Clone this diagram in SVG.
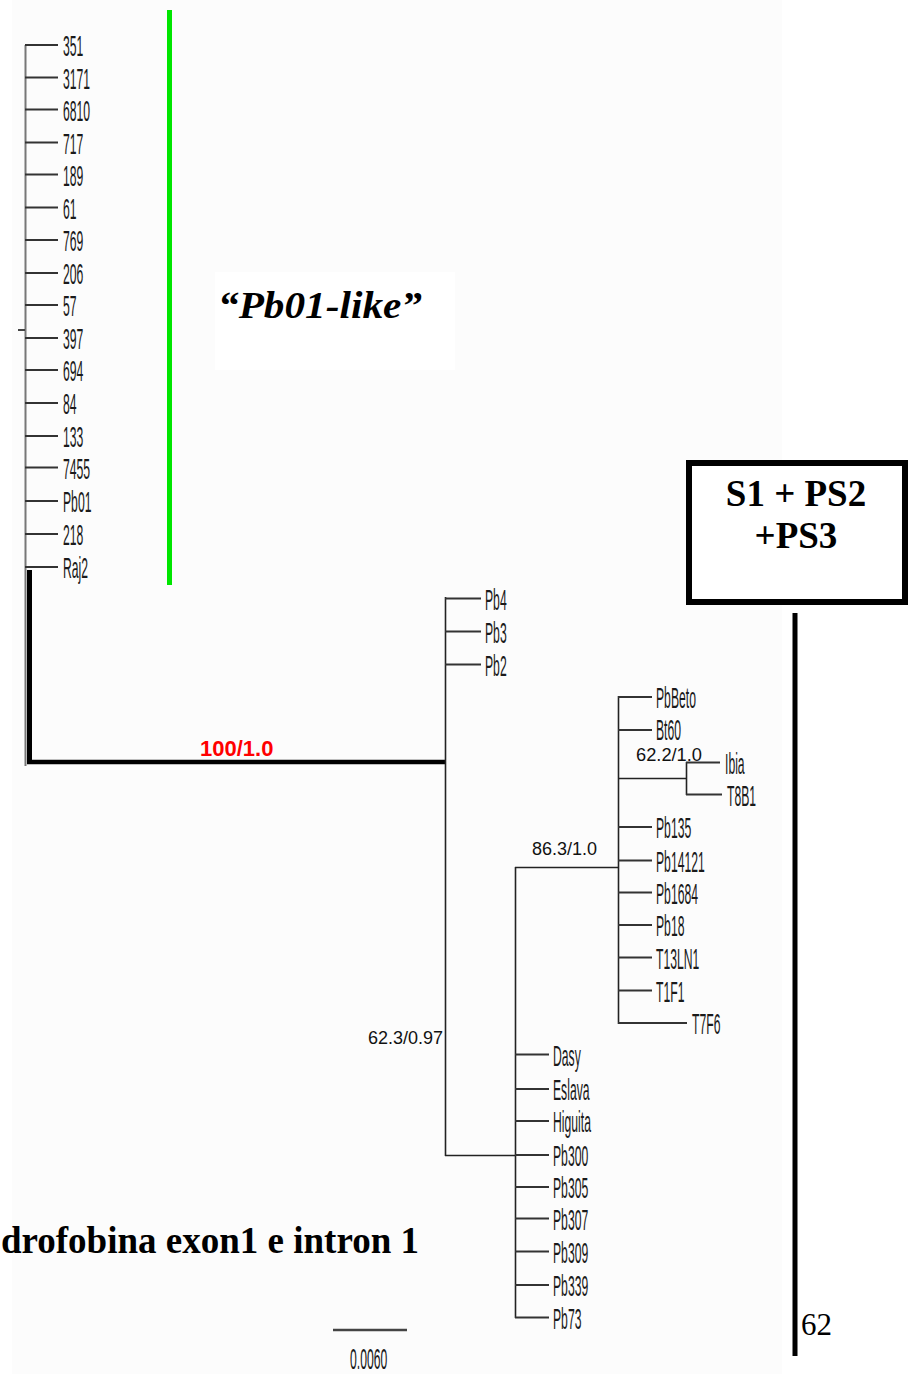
<svg xmlns="http://www.w3.org/2000/svg" width="922" height="1374" viewBox="0 0 922 1374">
<style>
.lf{font-family:"Liberation Sans",Arial,sans-serif;font-size:29px;fill:#1a1a1a}
.ll{stroke:#333;stroke-width:2;fill:none}
.br{stroke:#222;stroke-width:1.6;fill:none}
.bs{font-family:"Liberation Sans",Arial,sans-serif;font-size:18px;fill:#111}
.tb{font-family:"Liberation Serif","Times New Roman",serif;font-weight:bold;fill:#000}
</style>
<rect x="0" y="0" width="922" height="1374" fill="#ffffff"/>
<rect x="12" y="0" width="770" height="1374" fill="#fcfcfc"/>
<rect x="215" y="272" width="240" height="98" fill="#ffffff"/>

<g id="connectors">
  <line x1="25.5" y1="45" x2="25.5" y2="766" stroke="#777" stroke-width="2"/>
  <line x1="18" y1="330" x2="25" y2="330" stroke="#444" stroke-width="2"/>
  <line x1="29.5" y1="570" x2="29.5" y2="764" stroke="#000" stroke-width="5"/>
  <line x1="27" y1="762" x2="446" y2="762" stroke="#000" stroke-width="4.5"/>
  <line class="br" x1="445.5" y1="597" x2="445.5" y2="1156"/>
  <line class="br" x1="445" y1="1155.5" x2="516" y2="1155.5"/>
  <line class="br" x1="515.5" y1="867" x2="515.5" y2="1318"/>
  <line class="br" x1="515" y1="867.5" x2="619" y2="867.5"/>
  <line class="br" x1="618.5" y1="696" x2="618.5" y2="1024"/>
  <line class="br" x1="618" y1="778.5" x2="687" y2="778.5"/>
  <line class="br" x1="686.5" y1="762" x2="686.5" y2="795"/>
</g>

<g id="green-bar"><line x1="169.5" y1="10" x2="169.5" y2="585" stroke="#00e600" stroke-width="5"/></g>

<g id="left-clade">
  <g id="n351"><line class="ll" x1="25" y1="45" x2="58" y2="45"/><text class="lf" transform="translate(63,56) scale(0.42,1)">351</text></g>
  <g id="n3171"><line class="ll" x1="25" y1="77.5" x2="58" y2="77.5"/><text class="lf" transform="translate(63,88.5) scale(0.42,1)">3171</text></g>
  <g id="n6810"><line class="ll" x1="25" y1="109.5" x2="58" y2="109.5"/><text class="lf" transform="translate(63,120.5) scale(0.42,1)">6810</text></g>
  <g id="n717"><line class="ll" x1="25" y1="142.5" x2="58" y2="142.5"/><text class="lf" transform="translate(63,153.5) scale(0.42,1)">717</text></g>
  <g id="n189"><line class="ll" x1="25" y1="174.5" x2="58" y2="174.5"/><text class="lf" transform="translate(63,185.5) scale(0.42,1)">189</text></g>
  <g id="n61"><line class="ll" x1="25" y1="207.5" x2="58" y2="207.5"/><text class="lf" transform="translate(63,218.5) scale(0.42,1)">61</text></g>
  <g id="n769"><line class="ll" x1="25" y1="240" x2="58" y2="240"/><text class="lf" transform="translate(63,251) scale(0.42,1)">769</text></g>
  <g id="n206"><line class="ll" x1="25" y1="273" x2="58" y2="273"/><text class="lf" transform="translate(63,284) scale(0.42,1)">206</text></g>
  <g id="n57"><line class="ll" x1="25" y1="305" x2="58" y2="305"/><text class="lf" transform="translate(63,316) scale(0.42,1)">57</text></g>
  <g id="n397"><line class="ll" x1="25" y1="338" x2="58" y2="338"/><text class="lf" transform="translate(63,349) scale(0.42,1)">397</text></g>
  <g id="n694"><line class="ll" x1="25" y1="370" x2="58" y2="370"/><text class="lf" transform="translate(63,381) scale(0.42,1)">694</text></g>
  <g id="n84"><line class="ll" x1="25" y1="403" x2="58" y2="403"/><text class="lf" transform="translate(63,414) scale(0.42,1)">84</text></g>
  <g id="n133"><line class="ll" x1="25" y1="436" x2="58" y2="436"/><text class="lf" transform="translate(63,447) scale(0.42,1)">133</text></g>
  <g id="n7455"><line class="ll" x1="25" y1="467.5" x2="58" y2="467.5"/><text class="lf" transform="translate(63,478.5) scale(0.42,1)">7455</text></g>
  <g id="nPb01"><line class="ll" x1="25" y1="501" x2="58" y2="501"/><text class="lf" transform="translate(63,512) scale(0.42,1)">Pb01</text></g>
  <g id="n218"><line class="ll" x1="25" y1="534" x2="58" y2="534"/><text class="lf" transform="translate(63,545) scale(0.42,1)">218</text></g>
  <g id="nRaj2"><line class="ll" x1="25" y1="567" x2="58" y2="567"/><text class="lf" transform="translate(63,578) scale(0.42,1)">Raj2</text></g>
</g>

<g id="label-pb01like"><text x="218" y="318" font-family="'Liberation Serif','Times New Roman',serif" font-weight="bold" font-style="italic" font-size="37" fill="#000" textLength="204" lengthAdjust="spacingAndGlyphs">“Pb01-like”</text></g>

<g id="bootstrap-100"><text x="200" y="756" font-family="'Liberation Sans',Arial,sans-serif" font-weight="bold" font-size="22" fill="#ff0000">100/1.0</text></g>

<g id="pb-group">
  <g id="nPb4"><line class="ll" x1="445" y1="598.5" x2="481" y2="598.5"/><text class="lf" transform="translate(485,609.5) scale(0.42,1)">Pb4</text></g>
  <g id="nPb3"><line class="ll" x1="445" y1="631.5" x2="481" y2="631.5"/><text class="lf" transform="translate(485,642.5) scale(0.42,1)">Pb3</text></g>
  <g id="nPb2"><line class="ll" x1="445" y1="664.5" x2="481" y2="664.5"/><text class="lf" transform="translate(485,675.5) scale(0.42,1)">Pb2</text></g>
</g>

<g id="bootstrap-62-3"><text class="bs" x="368" y="1044">62.3/0.97</text></g>
<g id="bootstrap-86-3"><text class="bs" x="532" y="855">86.3/1.0</text></g>
<g id="bootstrap-62-2"><text class="bs" x="636" y="761" font-size="16.5" textLength="66" lengthAdjust="spacingAndGlyphs">62.2/1.0</text></g>

<g id="s1-clade">
  <g id="nPbBeto"><line class="ll" x1="618" y1="697" x2="652" y2="697"/><text class="lf" transform="translate(656,708) scale(0.42,1)">PbBeto</text></g>
  <g id="nBt60"><line class="ll" x1="618" y1="730" x2="652" y2="730"/><text class="lf" transform="translate(656,739.5) scale(0.42,1)">Bt60</text></g>
  <g id="nIbia"><line class="ll" x1="686" y1="762.5" x2="720" y2="762.5"/><text class="lf" transform="translate(725,773.5) scale(0.42,1)">Ibia</text></g>
  <g id="nT8B1"><line class="ll" x1="686" y1="794.5" x2="722" y2="794.5"/><text class="lf" transform="translate(727,805.5) scale(0.42,1)">T8B1</text></g>
  <g id="nPb135"><line class="ll" x1="618" y1="827" x2="652" y2="827"/><text class="lf" transform="translate(656,838) scale(0.42,1)">Pb135</text></g>
  <g id="nPb14121"><line class="ll" x1="618" y1="860.5" x2="652" y2="860.5"/><text class="lf" transform="translate(656,871.5) scale(0.42,1)">Pb14121</text></g>
  <g id="nPb1684"><line class="ll" x1="618" y1="892.5" x2="652" y2="892.5"/><text class="lf" transform="translate(656,903.5) scale(0.42,1)">Pb1684</text></g>
  <g id="nPb18"><line class="ll" x1="618" y1="925" x2="652" y2="925"/><text class="lf" transform="translate(656,936) scale(0.42,1)">Pb18</text></g>
  <g id="nT13LN1"><line class="ll" x1="618" y1="957.5" x2="652" y2="957.5"/><text class="lf" transform="translate(656,968.5) scale(0.42,1)">T13LN1</text></g>
  <g id="nT1F1"><line class="ll" x1="618" y1="990.5" x2="652" y2="990.5"/><text class="lf" transform="translate(656,1001.5) scale(0.42,1)">T1F1</text></g>
  <g id="nT7F6"><line class="ll" x1="618" y1="1023" x2="687" y2="1023"/><text class="lf" transform="translate(692,1034) scale(0.42,1)">T7F6</text></g>
</g>

<g id="ps-clade">
  <g id="nDasy"><line class="ll" x1="515" y1="1054.5" x2="549" y2="1054.5"/><text class="lf" transform="translate(553,1065.5) scale(0.42,1)">Dasy</text></g>
  <g id="nEslava"><line class="ll" x1="515" y1="1089" x2="549" y2="1089"/><text class="lf" transform="translate(553,1100) scale(0.42,1)">Eslava</text></g>
  <g id="nHiguita"><line class="ll" x1="515" y1="1121" x2="549" y2="1121"/><text class="lf" transform="translate(553,1132) scale(0.42,1)">Higuita</text></g>
  <g id="nPb300"><line class="ll" x1="515" y1="1155" x2="549" y2="1155"/><text class="lf" transform="translate(553,1166) scale(0.42,1)">Pb300</text></g>
  <g id="nPb305"><line class="ll" x1="515" y1="1187" x2="549" y2="1187"/><text class="lf" transform="translate(553,1198) scale(0.42,1)">Pb305</text></g>
  <g id="nPb307"><line class="ll" x1="515" y1="1218.5" x2="549" y2="1218.5"/><text class="lf" transform="translate(553,1229.5) scale(0.42,1)">Pb307</text></g>
  <g id="nPb309"><line class="ll" x1="515" y1="1251.5" x2="549" y2="1251.5"/><text class="lf" transform="translate(553,1262.5) scale(0.42,1)">Pb309</text></g>
  <g id="nPb339"><line class="ll" x1="515" y1="1285" x2="549" y2="1285"/><text class="lf" transform="translate(553,1296) scale(0.42,1)">Pb339</text></g>
  <g id="nPb73"><line class="ll" x1="515" y1="1317.5" x2="549" y2="1317.5"/><text class="lf" transform="translate(553,1328.5) scale(0.42,1)">Pb73</text></g>
</g>

<g id="box-s1ps2ps3">
  <rect x="689" y="463" width="216" height="139" fill="#ffffff" stroke="#000" stroke-width="6"/>
  <text class="tb" x="796" y="506" font-size="37" text-anchor="middle">S1 + PS2</text>
  <text class="tb" x="796" y="548" font-size="37" text-anchor="middle">+PS3</text>
</g>
<g id="bracket-line"><line x1="795" y1="613" x2="795" y2="1356" stroke="#000" stroke-width="5"/></g>
<g id="page-number"><text x="801" y="1335" font-family="'Liberation Serif','Times New Roman',serif" font-size="31" fill="#000">62</text></g>

<g id="title"><text class="tb" x="419" y="1253" font-size="37" text-anchor="end">drofobina exon1 e intron 1</text></g>

<g id="scale-bar">
  <line x1="333" y1="1330" x2="407" y2="1330" stroke="#444" stroke-width="2.5"/>
  <text class="lf" transform="translate(350,1369) scale(0.42,1)">0.0060</text>
</g>
</svg>
